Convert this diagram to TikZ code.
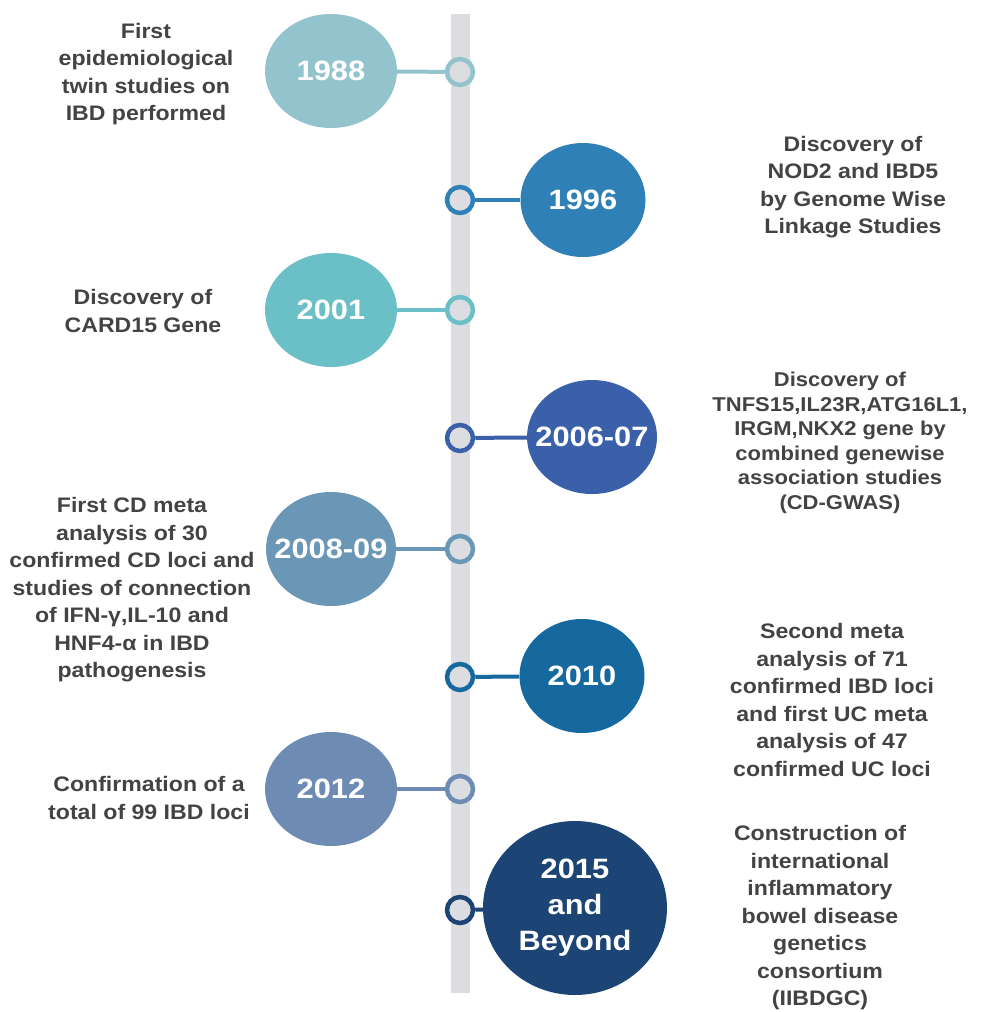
\documentclass[tikz,border=0pt]{standalone}
\usepackage{fontspec}
\setmainfont{Liberation Sans}[FakeStretch=1.1]
\usetikzlibrary{shapes.geometric}
\definecolor{c1988}{HTML}{93C4CE}
\definecolor{c1996}{HTML}{2F80B6}
\definecolor{c2001}{HTML}{6BBFC6}
\definecolor{c2006}{HTML}{3A60A9}
\definecolor{c2008}{HTML}{6A97B5}
\definecolor{c2010}{HTML}{16699E}
\definecolor{c2012}{HTML}{6E8BB4}
\definecolor{c2015}{HTML}{1C4474}
\definecolor{barcol}{HTML}{DCDDE1}
\definecolor{txtcol}{HTML}{434343}
\tikzset{
  yearbub/.style={ellipse,inner sep=0pt,minimum width=132pt,minimum height=114pt},
  yeartxt/.style={text=white,align=center,font=\fontsize{28}{36}\selectfont\bfseries},
  ring/.style={circle,inner sep=0pt,minimum size=26pt,line width=4.5pt,fill=barcol},
  conn/.style={line width=4pt},
  desc/.style={text=txtcol,align=center,font=\fontsize{21}{27.5}\selectfont\bfseries},
}
\begin{document}
\begin{tikzpicture}[x=1pt,y=-1pt]
  \useasboundingbox (0,0) rectangle (985,1012);
  % timeline bar
  \fill[barcol] (451,14) rectangle (470,993);
  % year bubbles
  \node[yearbub,fill=c1988,label={[yeartxt]center:1988}] (y1988) at (331,71) {};
  \node[yearbub,fill=c1996,minimum width=125pt,label={[yeartxt]center:1996}] (y1996) at (583,200) {};
  \node[yearbub,fill=c2001,label={[yeartxt]center:2001}] (y2001) at (331,310) {};
  \node[yearbub,fill=c2006,minimum width=130pt,label={[yeartxt]center:2006-07}] (y2006) at (592,437) {};
  \node[yearbub,fill=c2008,minimum width=130pt,label={[yeartxt]center:2008-09}] (y2008) at (331,549) {};
  \node[yearbub,fill=c2010,minimum width=125pt,label={[yeartxt]center:2010}] (y2010) at (582,676) {};
  \node[yearbub,fill=c2012,label={[yeartxt]center:2012}] (y2012) at (331,789) {};
  \node[yearbub,fill=c2015,minimum width=184pt,minimum height=174pt,
    label={[yeartxt]center:{2015\\and\\Beyond}}] (y2015) at (575,908) {};
  % rings on the bar
  \foreach \yr/\ypos in {1988/72,1996/200,2001/310,2006/438,2008/549,2010/677,2012/789,2015/910}
    \node[ring,draw=c\yr] (r\yr) at (460,\ypos) {};
  \foreach \yr in {1988,1996,2001,2006,2008,2010,2012,2015}
    \draw[conn,c\yr] (y\yr) -- (r\yr);
  % descriptions
  \node[desc] (t1988) at (146,74)  {First\\epidemiological\\twin studies on\\IBD performed};
  \node[desc] (t1996) at (853,187) {Discovery of\\NOD2 and IBD5\\by Genome Wise\\Linkage Studies};
  \node[desc] (t2001) at (143,311) {Discovery of\\CARD15 Gene};
  \node[desc,font=\fontsize{20}{24.5}\selectfont\bfseries] (t2006) at (840,443) {Discovery of\\TNFS15,IL23R,ATG16L1,\\IRGM,NKX2 gene by\\combined genewise\\association studies\\(CD-GWAS)};
  \node[desc] (t2008) at (132,590) {First CD meta\\analysis of 30\\confirmed CD loci and\\studies of connection\\of IFN-γ,IL-10 and\\HNF4-α in IBD\\pathogenesis};
  \node[desc] (t2010) at (832,700) {Second meta\\analysis of 71\\confirmed IBD loci\\and first UC meta\\analysis of 47\\confirmed UC loci};
  \node[desc] (t2012) at (149,798) {Confirmation of a\\total of 99 IBD loci};
  \node[desc] (t2015) at (820,918) {Construction of\\international\\inflammatory\\bowel disease\\genetics\\consortium\\(IIBDGC)};
\end{tikzpicture}
\end{document}
